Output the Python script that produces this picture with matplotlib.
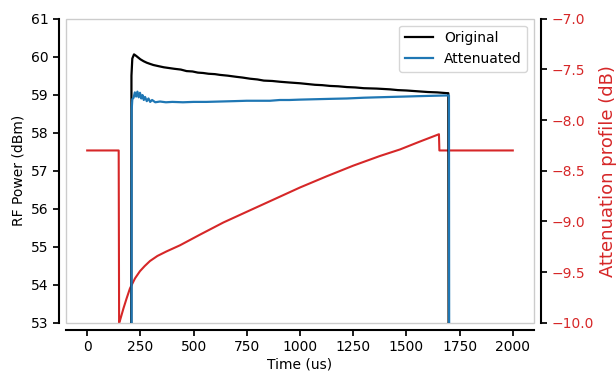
import matplotlib
matplotlib.use("Agg")
import matplotlib.pyplot as plt
from matplotlib.patches import Rectangle

# ---- data ----
orig_t = [0, 206, 208, 212, 220, 230, 250, 265, 280, 295, 311, 335, 360, 385, 410, 440,
          467, 495, 520, 545, 570, 600, 624, 660, 700, 730, 765, 800, 830, 870, 905,
          950, 1000, 1035, 1070, 1105, 1141, 1180, 1220, 1260, 1300, 1360, 1423, 1460,
          1500, 1550, 1600, 1645, 1690, 1697, 1700, 2000]
orig_v = [45, 45, 59.5, 59.95, 60.06, 60.02, 59.93, 59.88, 59.84, 59.81, 59.78, 59.75, 59.72,
          59.70, 59.68, 59.66, 59.62, 59.61, 59.58, 59.57, 59.55, 59.54, 59.52, 59.50, 59.47,
          59.45, 59.42, 59.40, 59.37, 59.36, 59.34, 59.32, 59.30, 59.28, 59.26, 59.25, 59.23,
          59.22, 59.20, 59.19, 59.17, 59.16, 59.14, 59.12, 59.11, 59.09, 59.07, 59.06, 59.04,
          59.04, 45, 45]

att_t = [0, 208, 209, 212, 218, 224, 230, 236, 242, 248, 254, 260, 266, 272, 280, 288,
         296, 305, 320, 342, 370, 400, 450, 500, 560, 624, 690, 750, 800, 859, 905,
         950, 1000, 1070, 1141, 1220, 1300, 1360, 1423, 1490, 1550, 1620, 1690, 1700, 1702, 2000]
att_v = [45, 45, 58.6, 58.88, 58.92, 59.06, 58.95, 59.08, 58.93, 59.05, 58.90, 58.99, 58.86,
         58.94, 58.83, 58.90, 58.81, 58.86, 58.80, 58.82, 58.80, 58.81, 58.80, 58.81, 58.81,
         58.82, 58.83, 58.84, 58.84, 58.84, 58.86, 58.86, 58.87, 58.88, 58.89, 58.90, 58.92,
         58.93, 58.94, 58.95, 58.96, 58.97, 58.98, 58.98, 45, 45]

prof_t = [0, 148, 150, 155, 170, 185, 201, 225, 248, 270, 295, 330, 373, 436, 530, 640,
          765, 880, 1000, 1125, 1250, 1375, 1470, 1560, 1653, 1655, 2000]
prof_v = [-8.3, -8.3, -10.0, -9.97, -9.86, -9.76, -9.66, -9.56, -9.49, -9.44, -9.39, -9.34,
          -9.295, -9.235, -9.13, -9.01, -8.89, -8.78, -8.665, -8.555, -8.45, -8.355, -8.29,
          -8.215, -8.14, -8.30, -8.30]

x_ticks = [0, 250, 500, 750, 1000, 1250, 1500, 1750, 2000]
left_ticks = [53, 54, 55, 56, 57, 58, 59, 60, 61]
right_ticks = [-10.0, -9.5, -9.0, -8.5, -8.0, -7.5, -7.0]

plt.rcParams['font.family'] = ['DejaVu Sans']
fig = plt.figure(figsize=(6.16, 3.72), dpi=100)
ax = fig.add_axes([0.107, 0.132, 0.760, 0.818])
ax2 = ax.twinx()

ax.plot(orig_t, orig_v, color='black', lw=1.6, label='Original')
ax.plot(att_t, att_v, color='#1f77b4', lw=1.6, label='Attenuated')
ax2.plot(prof_t, prof_v, color='#d62728', lw=1.5)

ax.set_xlim(-100, 2100)
ax.set_ylim(53, 61)
ax2.set_ylim(-10, -7)
ax.set_xticks(x_ticks)
ax.set_yticks(left_ticks)
ax2.set_yticks(right_ticks)
ax2.set_yticklabels([f"{v:.1f}".replace('-', '\u2212') for v in right_ticks])

off = 5
for s in ['top', 'right']:
    ax.spines[s].set_visible(False)
for s in ['top', 'left', 'bottom']:
    ax2.spines[s].set_visible(False)
for sp in [ax.spines['left'], ax.spines['bottom'], ax2.spines['right']]:
    sp.set_position(('outward', off))
    sp.set_linewidth(1.5)
    sp.set_color('black')

ax.add_patch(Rectangle((0, 0), 1, 1, transform=ax.transAxes, fill=False,
                       edgecolor='#cccccc', lw=1.0, clip_on=False, zorder=0))

ax.tick_params(axis='both', direction='out', length=4, width=1.25, labelsize=10, colors='black')
ax2.tick_params(axis='y', direction='out', length=4, width=1.25, labelsize=10,
                colors='black', labelcolor='#d62728')

ax.set_xlabel('Time (us)', fontsize=10, labelpad=2)
ax.set_ylabel('RF Power (dBm)', fontsize=10)
ax2.set_ylabel('Attenuation profile (dB)', fontsize=13, color='#d62728')

leg = ax.legend(loc='upper right', fontsize=10, frameon=True, fancybox=True)
leg.get_frame().set_edgecolor('#cccccc')
ax.set_zorder(ax2.get_zorder() + 1)
ax.patch.set_visible(False)

fig.savefig('out.png', dpi=100)
